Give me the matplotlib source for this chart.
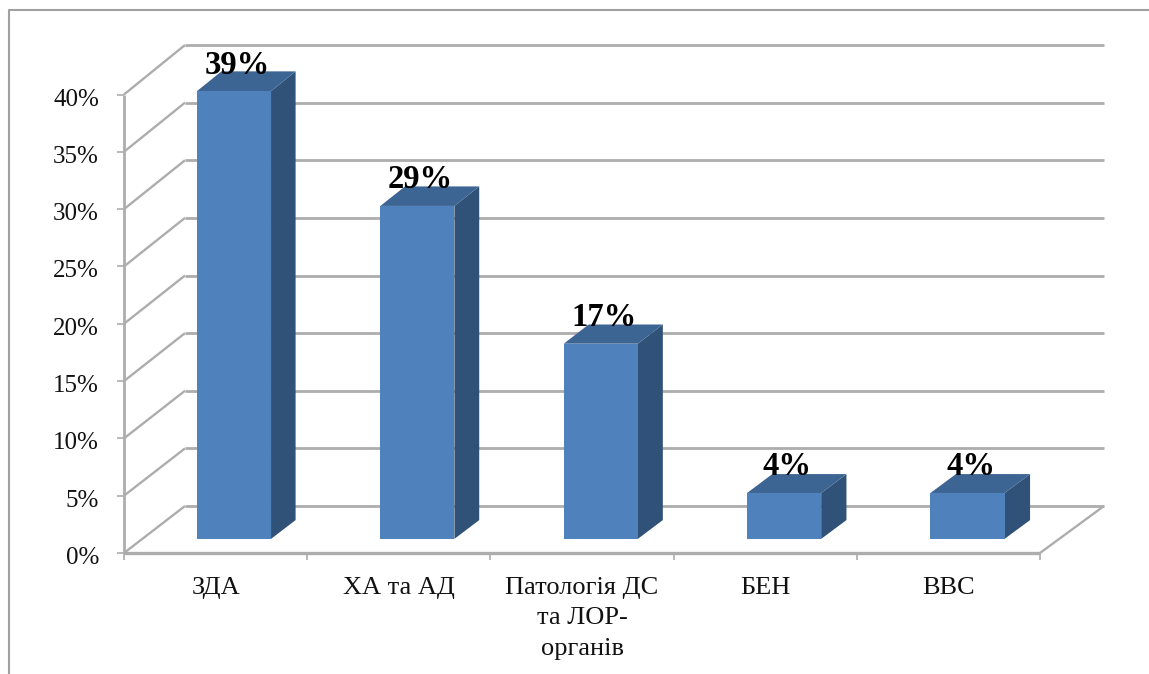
import matplotlib
matplotlib.use("Agg")
import matplotlib.pyplot as plt
from matplotlib.patches import Polygon

categories = ["ЗДА", "ХА та АД", "Патологія ДС\nта ЛОР-\nорганів", "БЕН", "ВВС"]
values = [39, 29, 17, 4, 4]
y_ticks = [0, 5, 10, 15, 20, 25, 30, 35, 40]

W, H = 1149, 674
GRID = "#adadad"
FRONT = "#4f81bd"
TOP = "#3d6593"
SIDE = "#315278"

plt.rcParams["font.family"] = ["Liberation Serif", "DejaVu Serif"]

fig = plt.figure(figsize=(W / 100, H / 100), dpi=100)
# plot area is the front plane of the fake 3d box
ax = fig.add_axes([124 / W, 1 - 553 / H, 916 / W, 458.5 / H])
ax.set_xlim(0, 5)
ax.set_ylim(0, 40)
ax.axis("off")

PX = 916 / 5     # pixels per category
PY = 458.5 / 40  # pixels per percent

# depth of the box in data units, back wall is a touch larger than the front
DX = 61 / PX
DY = 47 / PY
KX = 919 / 916 - 1
KY = 461 / 458.5 - 1


def pt(x, y, d=0.0):
    return (x * (1 + d * KX) + d * DX, y * (1 + d * KY) + d * DY)


def line(p, q, lw=2.0, color=GRID, z=1):
    ax.plot([p[0], q[0]], [p[1], q[1]], color=color, lw=lw, clip_on=False,
            solid_capstyle="butt", zorder=z)


# walls
for t in y_ticks:
    line(pt(0, t), pt(0, t, 1), lw=1.7)
    line(pt(0, t, 1), pt(5, t, 1))
    line((0, t), (-7 / PX, t), lw=1.2)
    ax.text(-25 / PX, t - 5 / PY, f"{t}%", ha="right", va="center", fontsize=18,
            color="#111111", clip_on=False)

line(pt(5, 0), pt(5, 0, 1), lw=1.7)
line((0, 0), (0, 40), lw=2.0, z=2)
line((0, 0), (5, 0), lw=2.4, z=2)

# category ticks and labels
for i in range(6):
    line((i, 0), (i, -7 / PY), lw=1.2)
for i, name in enumerate(categories):
    ax.text(i + 0.5, -24 / PY, name, ha="center", va="top", fontsize=19,
            color="#111111", linespacing=1.49, clip_on=False)

# bars
bw = 74 / PX
d0, d1 = 0.3, 0.7
for i, v in enumerate(values):
    x0 = i + 0.5 - bw / 2
    x1 = x0 + bw
    ax.add_patch(Polygon([pt(x1, 0, d0), pt(x1, 0, d1), pt(x1, v, d1), pt(x1, v, d0)],
                         fc=SIDE, ec="none", clip_on=False, zorder=3))
    ax.add_patch(Polygon([pt(x0, v, d0), pt(x1, v, d0), pt(x1, v, d1), pt(x0, v, d1)],
                         fc=TOP, ec="none", clip_on=False, zorder=3))
    ax.add_patch(Polygon([pt(x0, 0, d0), pt(x1, 0, d0), pt(x1, v, d0), pt(x0, v, d0)],
                         fc=FRONT, ec="none", clip_on=False, zorder=4))
    lx, ly = pt(i + 0.5, v, d0)
    ax.text(lx + 3 / PX, ly + 26 / PY, f"{v}%", ha="center", va="center",
            fontsize=23.5, fontweight="bold", color="black", clip_on=False, zorder=5)

# outer chart frame
frame = fig.add_axes([0, 0, 1, 1], facecolor="none")
frame.set_xlim(0, W)
frame.set_ylim(H, 0)
frame.axis("off")
frame.plot([9, 9, W], [H, 10, 10], color="#a0a0a0", lw=1.5)

fig.savefig("out.png", dpi=100)
